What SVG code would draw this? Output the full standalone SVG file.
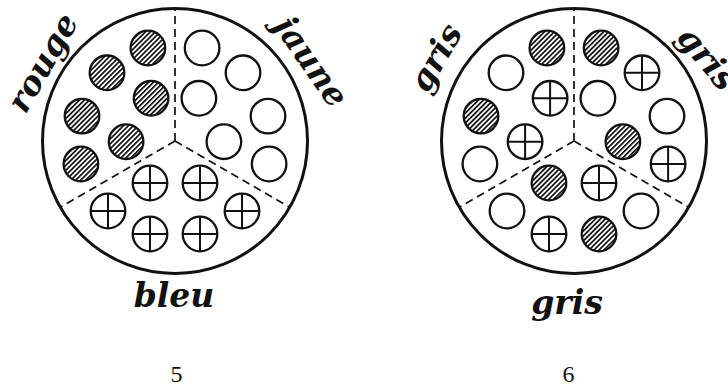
<svg xmlns="http://www.w3.org/2000/svg" xmlns:xlink="http://www.w3.org/1999/xlink" width="728" height="391" viewBox="0 0 728 391">
<style>
.outer{fill:none;stroke:#111;stroke-width:3}
.div{fill:none;stroke:#111;stroke-width:1.7;stroke-dasharray:8 5}
.c{stroke:#111;stroke-width:2.3}
.cl{stroke:#111;stroke-width:2}
.lab{font-family:"DejaVu Serif","Liberation Serif",serif;font-weight:bold;font-style:italic;font-size:33px;fill:#111;text-anchor:middle}
.num{font-family:"Liberation Serif",serif;font-size:24px;fill:#111;text-anchor:middle}
</style>
<defs>
<pattern id="hatch" patternUnits="userSpaceOnUse" width="3.5" height="3.5" patternTransform="rotate(45)">
<rect width="3.5" height="3.5" fill="#fff"/>
<line x1="0.8" y1="0" x2="0.8" y2="3.5" stroke="#000" stroke-width="1.6"/>
</pattern>
<g id="h"><circle r="17.3" class="c" fill="url(#hatch)"/></g>
<g id="o"><circle r="17.3" class="c" fill="#fff"/></g>
<g id="x"><circle r="17.3" class="c" fill="#fff"/><path class="cl" d="M-17.3 0H17.3M0 -17.3V17.3"/></g>
</defs>
<rect width="728" height="391" fill="#fff"/>

<g id="fig5" transform="translate(175,141)">
<circle class="outer" r="132.5"/>
<g id="fig5-connectors">
<path class="div" d="M0 0V-132.5"/>
<path class="div" d="M0 0L-114.7 66.25"/>
<path class="div" d="M0 0L114.7 66.25"/>
</g>
<g id="rouge-sector">
<use xlink:href="#h" x="-27.1" y="-93"/>
<use xlink:href="#h" x="-68" y="-68.2"/>
<use xlink:href="#h" x="-23.9" y="-42.7"/>
<use xlink:href="#h" x="-93" y="-24.9"/>
<use xlink:href="#h" x="-48.9" y="0.7"/>
<use xlink:href="#h" x="-94.1" y="23"/>
</g>
<g id="jaune-sector">
<use xlink:href="#o" x="27.1" y="-93"/>
<use xlink:href="#o" x="68" y="-68.2"/>
<use xlink:href="#o" x="23.9" y="-42.7"/>
<use xlink:href="#o" x="93" y="-24.9"/>
<use xlink:href="#o" x="48.9" y="0.7"/>
<use xlink:href="#o" x="94.1" y="23"/>
</g>
<g id="bleu-sector">
<use xlink:href="#x" x="-25" y="42"/>
<use xlink:href="#x" x="25" y="42"/>
<use xlink:href="#x" x="-67" y="70"/>
<use xlink:href="#x" x="67" y="70"/>
<use xlink:href="#x" x="-25" y="93"/>
<use xlink:href="#x" x="25" y="93"/>
</g>
</g>
<g id="labels5">
<text class="lab" transform="translate(45,64) rotate(-60)" x="0" y="8.5">rouge</text>
<text class="lab" transform="translate(309,63) rotate(55)" x="0" y="8.5">jaune</text>
<text class="lab" x="174" y="307">bleu</text>
<text class="num" x="176.5" y="382">5</text>
</g>

<g id="fig6" transform="translate(574,141)">
<circle class="outer" r="132.5"/>
<g id="fig6-connectors">
<path class="div" d="M0 0V-132.5"/>
<path class="div" d="M0 0L-114.7 66.25"/>
<path class="div" d="M0 0L114.7 66.25"/>
</g>
<g id="gris-left-sector">
<use xlink:href="#h" x="-27.1" y="-93"/>
<use xlink:href="#o" x="-68" y="-68.2"/>
<use xlink:href="#x" x="-23.9" y="-42.7"/>
<use xlink:href="#h" x="-93" y="-24.9"/>
<use xlink:href="#x" x="-48.9" y="0.7"/>
<use xlink:href="#o" x="-94.1" y="23"/>
</g>
<g id="gris-right-sector">
<use xlink:href="#h" x="27.1" y="-93"/>
<use xlink:href="#x" x="68" y="-68.2"/>
<use xlink:href="#o" x="23.9" y="-42.7"/>
<use xlink:href="#o" x="93" y="-24.9"/>
<use xlink:href="#h" x="48.9" y="0.7"/>
<use xlink:href="#x" x="94.1" y="23"/>
</g>
<g id="gris-bottom-sector">
<use xlink:href="#h" x="-25" y="42"/>
<use xlink:href="#x" x="25" y="42"/>
<use xlink:href="#o" x="-67" y="70"/>
<use xlink:href="#o" x="67" y="70"/>
<use xlink:href="#x" x="-25" y="93"/>
<use xlink:href="#h" x="25" y="93"/>
</g>
</g>
<g id="labels6">
<text class="lab" transform="translate(438,59) rotate(-60)" x="0" y="8.5" font-size="35">gris</text>
<text class="lab" transform="translate(705,60) rotate(50)" x="0" y="8.5" font-size="35">gris</text>
<text class="lab" x="567" y="314" font-size="35">gris</text>
<text class="num" x="568.5" y="382">6</text>
</g>
</svg>
